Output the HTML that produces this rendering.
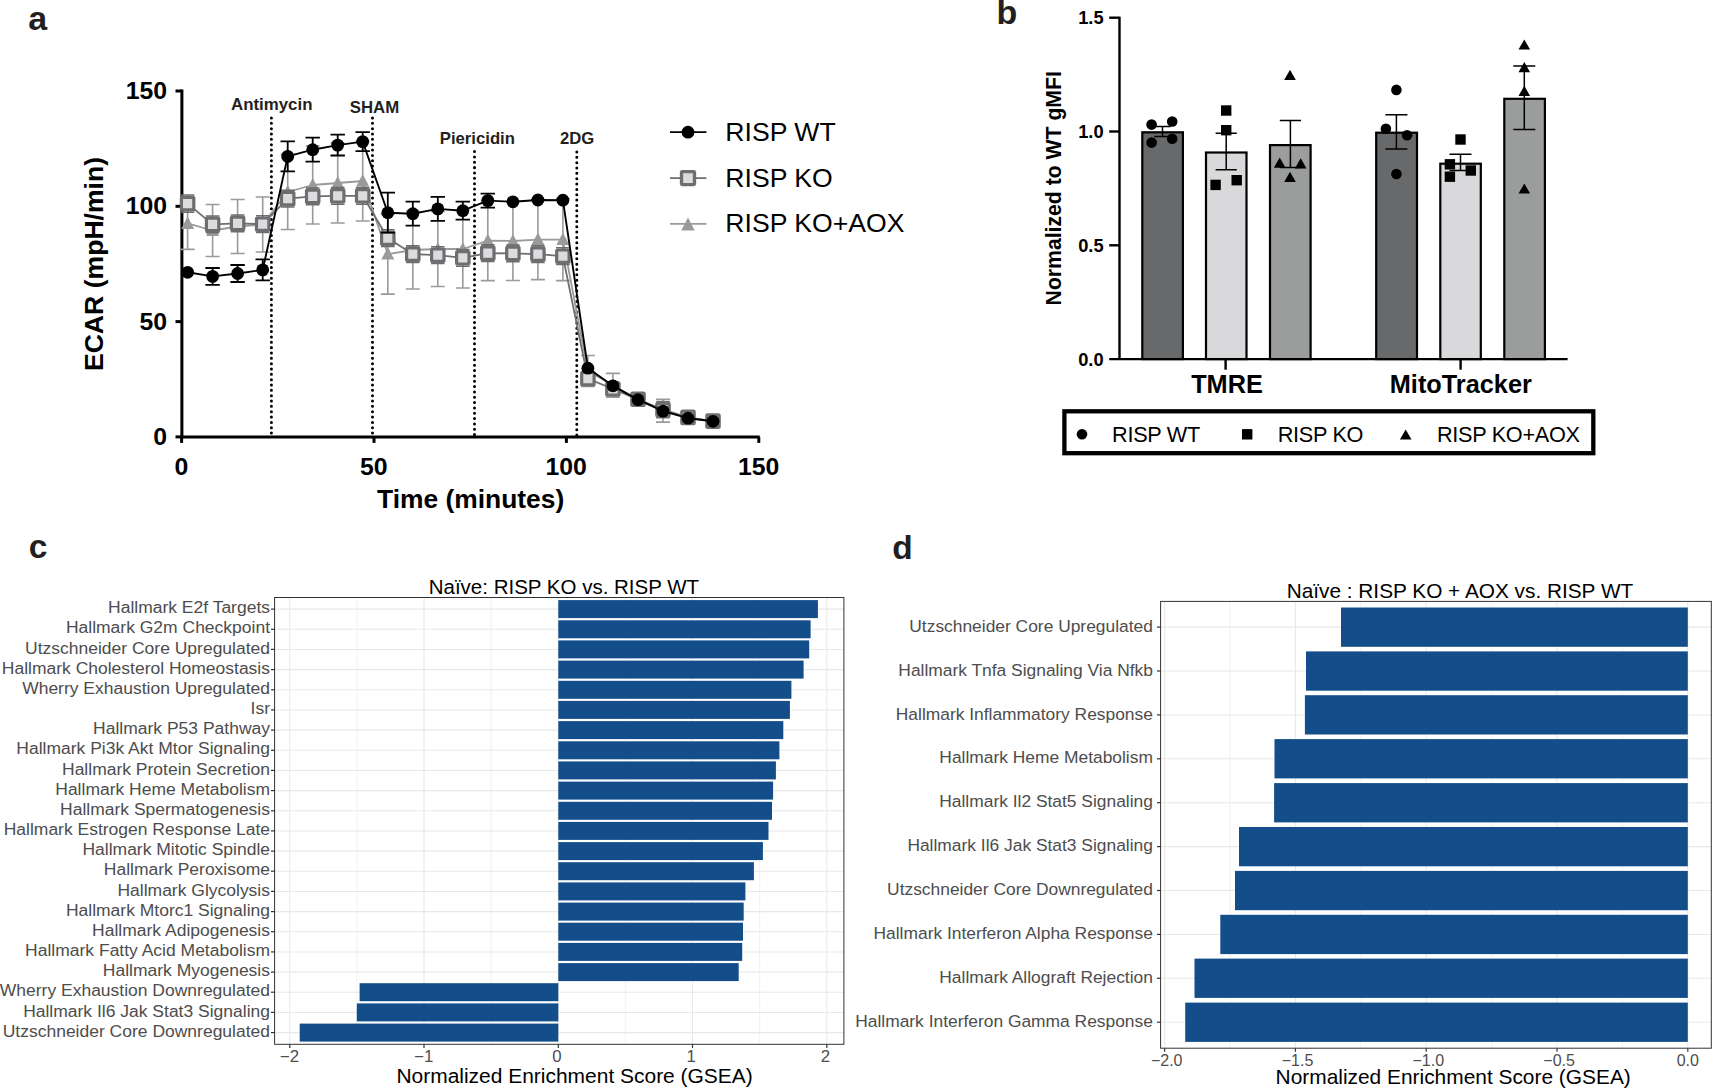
<!DOCTYPE html>
<html lang="en">
<head>
<meta charset="utf-8">
<title>Figure</title>
<style>
html,body{margin:0;padding:0;background:#fff;}
body{width:1713px;height:1089px;overflow:hidden;}
svg{display:block;font-family:"Liberation Sans",Arial,Helvetica,sans-serif;}
</style>
</head>
<body>
<svg width="1713" height="1089" viewBox="0 0 1713 1089">
<rect width="1713" height="1089" fill="#fff"/>
<text transform="translate(28.20,29.60)" font-size="34" font-weight="bold" text-anchor="start" fill="#231f20">a</text>
<text transform="translate(996.60,24.20)" font-size="34" font-weight="bold" text-anchor="start" fill="#231f20">b</text>
<text transform="translate(28.80,557.80)" font-size="33.5" font-weight="bold" text-anchor="start" fill="#231f20">c</text>
<text transform="translate(892.20,558.60)" font-size="33.5" font-weight="bold" text-anchor="start" fill="#231f20">d</text>
<g id="pa">
<line x1="271.4" y1="118.0" x2="271.4" y2="435.29999999999995" stroke="#000" stroke-width="3.0" stroke-linecap="round" stroke-dasharray="0.01 5.33"/>
<line x1="372.5" y1="118.0" x2="372.5" y2="435.29999999999995" stroke="#000" stroke-width="3.0" stroke-linecap="round" stroke-dasharray="0.01 5.33"/>
<line x1="474.5" y1="151.6" x2="474.5" y2="435.29999999999995" stroke="#000" stroke-width="3.0" stroke-linecap="round" stroke-dasharray="0.01 5.33"/>
<line x1="576.8" y1="152.0" x2="576.8" y2="435.29999999999995" stroke="#000" stroke-width="3.0" stroke-linecap="round" stroke-dasharray="0.01 5.33"/>
<text transform="translate(231.00,110.00)" font-size="16.85" font-weight="bold" text-anchor="start" fill="#231f20">Antimycin</text>
<text transform="translate(349.80,113.20)" font-size="16.8" font-weight="bold" text-anchor="start" fill="#231f20">SHAM</text>
<text transform="translate(439.80,144.00)" font-size="16.7" font-weight="bold" text-anchor="start" fill="#231f20">Piericidin</text>
<text transform="translate(560.00,144.00)" font-size="16.7" font-weight="bold" text-anchor="start" fill="#231f20">2DG</text>
<path d="M181.9 89.5V436.9H759.7" fill="none" stroke="#000" stroke-width="3" stroke-linejoin="miter"/>
<line x1="175.5" y1="436.9" x2="181.9" y2="436.9" stroke="#000" stroke-width="3"/>
<line x1="181.6" y1="436.9" x2="181.6" y2="442.9" stroke="#000" stroke-width="3"/>
<text transform="translate(167.00,444.90)" font-size="24.8" font-weight="bold" text-anchor="end" fill="#000">0</text>
<text transform="translate(181.40,474.50)" font-size="24.8" font-weight="bold" text-anchor="middle" fill="#000">0</text>
<line x1="175.5" y1="321.6" x2="181.9" y2="321.6" stroke="#000" stroke-width="3"/>
<line x1="374.0" y1="436.9" x2="374.0" y2="442.9" stroke="#000" stroke-width="3"/>
<text transform="translate(167.00,329.60)" font-size="24.8" font-weight="bold" text-anchor="end" fill="#000">50</text>
<text transform="translate(373.80,474.50)" font-size="24.8" font-weight="bold" text-anchor="middle" fill="#000">50</text>
<line x1="175.5" y1="206.3" x2="181.9" y2="206.3" stroke="#000" stroke-width="3"/>
<line x1="566.4" y1="436.9" x2="566.4" y2="442.9" stroke="#000" stroke-width="3"/>
<text transform="translate(167.00,214.30)" font-size="24.8" font-weight="bold" text-anchor="end" fill="#000">100</text>
<text transform="translate(566.20,474.50)" font-size="24.8" font-weight="bold" text-anchor="middle" fill="#000">100</text>
<line x1="175.5" y1="91.0" x2="181.9" y2="91.0" stroke="#000" stroke-width="3"/>
<line x1="758.8" y1="436.9" x2="758.8" y2="442.9" stroke="#000" stroke-width="3"/>
<text transform="translate(167.00,99.00)" font-size="24.8" font-weight="bold" text-anchor="end" fill="#000">150</text>
<text transform="translate(758.60,474.50)" font-size="24.8" font-weight="bold" text-anchor="middle" fill="#000">150</text>
<path d="M187.6 197.4V249.4M180.6 197.4H194.6M180.6 249.4H194.6" stroke="#9a9a9a" stroke-width="1.6" fill="none"/>
<path d="M212.6 204.5V256.5M205.6 204.5H219.6M205.6 256.5H219.6" stroke="#9a9a9a" stroke-width="1.6" fill="none"/>
<path d="M237.6 199.5V253.5M230.6 199.5H244.6M230.6 253.5H244.6" stroke="#9a9a9a" stroke-width="1.6" fill="none"/>
<path d="M262.7 197.0V252.0M255.7 197.0H269.7M255.7 252.0H269.7" stroke="#9a9a9a" stroke-width="1.6" fill="none"/>
<path d="M287.7 154.5V229.5M280.7 154.5H294.7M280.7 229.5H294.7" stroke="#9a9a9a" stroke-width="1.6" fill="none"/>
<path d="M312.7 146.0V224.0M305.7 146.0H319.7M305.7 224.0H319.7" stroke="#9a9a9a" stroke-width="1.6" fill="none"/>
<path d="M337.7 143.0V223.0M330.7 143.0H344.7M330.7 223.0H344.7" stroke="#9a9a9a" stroke-width="1.6" fill="none"/>
<path d="M362.7 141.0V221.0M355.7 141.0H369.7M355.7 221.0H369.7" stroke="#9a9a9a" stroke-width="1.6" fill="none"/>
<path d="M387.8 214.1V294.1M380.8 214.1H394.8M380.8 294.1H394.8" stroke="#9a9a9a" stroke-width="1.6" fill="none"/>
<path d="M412.8 211.0V289.0M405.8 211.0H419.8M405.8 289.0H419.8" stroke="#9a9a9a" stroke-width="1.6" fill="none"/>
<path d="M437.8 211.5V286.5M430.8 211.5H444.8M430.8 286.5H444.8" stroke="#9a9a9a" stroke-width="1.6" fill="none"/>
<path d="M462.8 210.0V288.0M455.8 210.0H469.8M455.8 288.0H469.8" stroke="#9a9a9a" stroke-width="1.6" fill="none"/>
<path d="M487.8 200.6V280.6M480.8 200.6H494.8M480.8 280.6H494.8" stroke="#9a9a9a" stroke-width="1.6" fill="none"/>
<path d="M512.9 201.5V280.5M505.9 201.5H519.9M505.9 280.5H519.9" stroke="#9a9a9a" stroke-width="1.6" fill="none"/>
<path d="M537.9 199.6V279.6M530.9 199.6H544.9M530.9 279.6H544.9" stroke="#9a9a9a" stroke-width="1.6" fill="none"/>
<path d="M562.9 198.6V280.6M555.9 198.6H569.9M555.9 280.6H569.9" stroke="#9a9a9a" stroke-width="1.6" fill="none"/>
<path d="M587.9 355.5V386.5M580.9 355.5H594.9M580.9 386.5H594.9" stroke="#9a9a9a" stroke-width="1.6" fill="none"/>
<path d="M612.9 373.4V397.2M605.9 373.4H619.9M605.9 397.2H619.9" stroke="#9a9a9a" stroke-width="1.6" fill="none"/>
<path d="M663.0 399.3V422.1M656.0 399.3H670.0M656.0 422.1H670.0" stroke="#9a9a9a" stroke-width="1.6" fill="none"/>
<polyline points="187.6,223.4 212.6,230.5 237.6,226.5 262.7,224.5 287.7,192.0 312.7,185.0 337.7,183.0 362.7,181.0 387.8,254.1 412.8,250.0 437.8,249.0 462.8,249.0 487.8,240.6 512.9,241.0 537.9,239.6 562.9,239.6 587.9,371.0 612.9,385.3 638.0,399.7 663.0,410.7 688.0,418.2 713.0,421.3" fill="none" stroke="#9a9a9a" stroke-width="1.8" stroke-linejoin="round"/>
<path d="M187.6 216.4L194.1 228.9H181.1Z" fill="#9a9a9a"/>
<path d="M212.6 223.5L219.1 236.0H206.1Z" fill="#9a9a9a"/>
<path d="M237.6 219.5L244.1 232.0H231.1Z" fill="#9a9a9a"/>
<path d="M262.7 217.5L269.2 230.0H256.2Z" fill="#9a9a9a"/>
<path d="M287.7 185.0L294.2 197.5H281.2Z" fill="#9a9a9a"/>
<path d="M312.7 178.0L319.2 190.5H306.2Z" fill="#9a9a9a"/>
<path d="M337.7 176.0L344.2 188.5H331.2Z" fill="#9a9a9a"/>
<path d="M362.7 174.0L369.2 186.5H356.2Z" fill="#9a9a9a"/>
<path d="M387.8 247.1L394.3 259.6H381.3Z" fill="#9a9a9a"/>
<path d="M412.8 243.0L419.3 255.5H406.3Z" fill="#9a9a9a"/>
<path d="M437.8 242.0L444.3 254.5H431.3Z" fill="#9a9a9a"/>
<path d="M462.8 242.0L469.3 254.5H456.3Z" fill="#9a9a9a"/>
<path d="M487.8 233.6L494.3 246.1H481.3Z" fill="#9a9a9a"/>
<path d="M512.9 234.0L519.4 246.5H506.4Z" fill="#9a9a9a"/>
<path d="M537.9 232.6L544.4 245.1H531.4Z" fill="#9a9a9a"/>
<path d="M562.9 232.6L569.4 245.1H556.4Z" fill="#9a9a9a"/>
<path d="M587.9 364.0L594.4 376.5H581.4Z" fill="#9a9a9a"/>
<path d="M612.9 378.3L619.4 390.8H606.4Z" fill="#9a9a9a"/>
<path d="M638.0 392.7L644.5 405.2H631.5Z" fill="#9a9a9a"/>
<path d="M663.0 403.7L669.5 416.2H656.5Z" fill="#9a9a9a"/>
<path d="M688.0 411.2L694.5 423.7H681.5Z" fill="#9a9a9a"/>
<path d="M713.0 414.3L719.5 426.8H706.5Z" fill="#9a9a9a"/>
<path d="M187.6 195.0V212.2M180.8 195.0H194.4M180.8 212.2H194.4" stroke="#6d6e70" stroke-width="1.5" fill="none"/>
<path d="M212.6 216.0V232.8M205.8 216.0H219.4M205.8 232.8H219.4" stroke="#6d6e70" stroke-width="1.5" fill="none"/>
<path d="M237.6 215.0V231.8M230.8 215.0H244.4M230.8 231.8H244.4" stroke="#6d6e70" stroke-width="1.5" fill="none"/>
<path d="M262.7 215.8V232.6M255.9 215.8H269.5M255.9 232.6H269.5" stroke="#6d6e70" stroke-width="1.5" fill="none"/>
<path d="M287.7 190.2V207.0M280.9 190.2H294.5M280.9 207.0H294.5" stroke="#6d6e70" stroke-width="1.5" fill="none"/>
<path d="M312.7 188.0V204.8M305.9 188.0H319.5M305.9 204.8H319.5" stroke="#6d6e70" stroke-width="1.5" fill="none"/>
<path d="M337.7 187.4V204.2M330.9 187.4H344.5M330.9 204.2H344.5" stroke="#6d6e70" stroke-width="1.5" fill="none"/>
<path d="M362.7 187.4V204.2M355.9 187.4H369.5M355.9 204.2H369.5" stroke="#6d6e70" stroke-width="1.5" fill="none"/>
<path d="M387.8 229.8V246.6M381.0 229.8H394.6M381.0 246.6H394.6" stroke="#6d6e70" stroke-width="1.5" fill="none"/>
<path d="M412.8 245.7V262.5M406.0 245.7H419.6M406.0 262.5H419.6" stroke="#6d6e70" stroke-width="1.5" fill="none"/>
<path d="M437.8 246.8V263.6M431.0 246.8H444.6M431.0 263.6H444.6" stroke="#6d6e70" stroke-width="1.5" fill="none"/>
<path d="M462.8 249.4V266.2M456.0 249.4H469.6M456.0 266.2H469.6" stroke="#6d6e70" stroke-width="1.5" fill="none"/>
<path d="M487.8 244.7V261.5M481.0 244.7H494.6M481.0 261.5H494.6" stroke="#6d6e70" stroke-width="1.5" fill="none"/>
<path d="M512.9 244.9V261.7M506.1 244.9H519.7M506.1 261.7H519.7" stroke="#6d6e70" stroke-width="1.5" fill="none"/>
<path d="M537.9 245.7V262.5M531.1 245.7H544.7M531.1 262.5H544.7" stroke="#6d6e70" stroke-width="1.5" fill="none"/>
<path d="M562.9 247.8V264.6M556.1 247.8H569.7M556.1 264.6H569.7" stroke="#6d6e70" stroke-width="1.5" fill="none"/>
<path d="M663.0 401.4V417.8M656.2 401.4H669.8M656.2 417.8H669.8" stroke="#6d6e70" stroke-width="1.5" fill="none"/>
<polyline points="187.6,203.6 212.6,224.4 237.6,223.4 262.7,224.2 287.7,198.6 312.7,196.4 337.7,195.8 362.7,195.8 387.8,238.2 412.8,254.1 437.8,255.2 462.8,257.8 487.8,253.1 512.9,253.3 537.9,254.1 562.9,256.2 587.9,378.6 612.9,389.0 638.0,399.3 663.0,409.6 688.0,417.4 713.0,421.1" fill="none" stroke="#6d6e70" stroke-width="1.8" stroke-linejoin="round"/>
<rect x="181.4" y="197.4" width="12.4" height="12.4" rx="0.9" fill="#dcdcde" stroke="#6d6e70" stroke-width="3.2"/>
<rect x="206.4" y="218.2" width="12.4" height="12.4" rx="0.9" fill="#dcdcde" stroke="#6d6e70" stroke-width="3.2"/>
<rect x="231.4" y="217.2" width="12.4" height="12.4" rx="0.9" fill="#dcdcde" stroke="#6d6e70" stroke-width="3.2"/>
<rect x="256.5" y="218.0" width="12.4" height="12.4" rx="0.9" fill="#dcdcde" stroke="#6d6e70" stroke-width="3.2"/>
<rect x="281.5" y="192.4" width="12.4" height="12.4" rx="0.9" fill="#dcdcde" stroke="#6d6e70" stroke-width="3.2"/>
<rect x="306.5" y="190.2" width="12.4" height="12.4" rx="0.9" fill="#dcdcde" stroke="#6d6e70" stroke-width="3.2"/>
<rect x="331.5" y="189.6" width="12.4" height="12.4" rx="0.9" fill="#dcdcde" stroke="#6d6e70" stroke-width="3.2"/>
<rect x="356.5" y="189.6" width="12.4" height="12.4" rx="0.9" fill="#dcdcde" stroke="#6d6e70" stroke-width="3.2"/>
<rect x="381.6" y="232.0" width="12.4" height="12.4" rx="0.9" fill="#dcdcde" stroke="#6d6e70" stroke-width="3.2"/>
<rect x="406.6" y="247.9" width="12.4" height="12.4" rx="0.9" fill="#dcdcde" stroke="#6d6e70" stroke-width="3.2"/>
<rect x="431.6" y="249.0" width="12.4" height="12.4" rx="0.9" fill="#dcdcde" stroke="#6d6e70" stroke-width="3.2"/>
<rect x="456.6" y="251.6" width="12.4" height="12.4" rx="0.9" fill="#dcdcde" stroke="#6d6e70" stroke-width="3.2"/>
<rect x="481.6" y="246.9" width="12.4" height="12.4" rx="0.9" fill="#dcdcde" stroke="#6d6e70" stroke-width="3.2"/>
<rect x="506.7" y="247.1" width="12.4" height="12.4" rx="0.9" fill="#dcdcde" stroke="#6d6e70" stroke-width="3.2"/>
<rect x="531.7" y="247.9" width="12.4" height="12.4" rx="0.9" fill="#dcdcde" stroke="#6d6e70" stroke-width="3.2"/>
<rect x="556.7" y="250.0" width="12.4" height="12.4" rx="0.9" fill="#dcdcde" stroke="#6d6e70" stroke-width="3.2"/>
<rect x="581.7" y="372.4" width="12.4" height="12.4" rx="0.9" fill="#dcdcde" stroke="#6d6e70" stroke-width="3.2"/>
<rect x="606.7" y="382.8" width="12.4" height="12.4" rx="0.9" fill="#dcdcde" stroke="#6d6e70" stroke-width="3.2"/>
<rect x="631.8" y="393.1" width="12.4" height="12.4" rx="0.9" fill="#dcdcde" stroke="#6d6e70" stroke-width="3.2"/>
<rect x="656.8" y="403.4" width="12.4" height="12.4" rx="0.9" fill="#dcdcde" stroke="#6d6e70" stroke-width="3.2"/>
<rect x="681.8" y="411.2" width="12.4" height="12.4" rx="0.9" fill="#dcdcde" stroke="#6d6e70" stroke-width="3.2"/>
<rect x="706.8" y="414.9" width="12.4" height="12.4" rx="0.9" fill="#dcdcde" stroke="#6d6e70" stroke-width="3.2"/>
<path d="M212.6 268.0V284.8M205.4 268.0H219.8M205.4 284.8H219.8" stroke="#000" stroke-width="1.8" fill="none"/>
<path d="M237.6 265.0V282.0M230.4 265.0H244.8M230.4 282.0H244.8" stroke="#000" stroke-width="1.8" fill="none"/>
<path d="M262.7 259.4V280.4M255.5 259.4H269.9M255.5 280.4H269.9" stroke="#000" stroke-width="1.8" fill="none"/>
<path d="M287.7 141.4V171.4M280.5 141.4H294.9M280.5 171.4H294.9" stroke="#000" stroke-width="1.8" fill="none"/>
<path d="M312.7 137.7V161.7M305.5 137.7H319.9M305.5 161.7H319.9" stroke="#000" stroke-width="1.8" fill="none"/>
<path d="M337.7 134.7V155.5M330.5 134.7H344.9M330.5 155.5H344.9" stroke="#000" stroke-width="1.8" fill="none"/>
<path d="M362.7 132.1V151.1M355.5 132.1H369.9M355.5 151.1H369.9" stroke="#000" stroke-width="1.8" fill="none"/>
<path d="M387.8 192.7V232.7M380.6 192.7H395.0M380.6 232.7H395.0" stroke="#000" stroke-width="1.8" fill="none"/>
<path d="M412.8 201.7V225.7M405.6 201.7H420.0M405.6 225.7H420.0" stroke="#000" stroke-width="1.8" fill="none"/>
<path d="M437.8 196.9V220.9M430.6 196.9H445.0M430.6 220.9H445.0" stroke="#000" stroke-width="1.8" fill="none"/>
<path d="M462.8 201.7V219.7M455.6 201.7H470.0M455.6 219.7H470.0" stroke="#000" stroke-width="1.8" fill="none"/>
<path d="M487.8 193.6V207.6M480.6 193.6H495.0M480.6 207.6H495.0" stroke="#000" stroke-width="1.8" fill="none"/>
<polyline points="187.6,272.3 212.6,276.4 237.6,273.5 262.7,269.9 287.7,156.4 312.7,149.7 337.7,145.1 362.7,141.6 387.8,212.7 412.8,213.7 437.8,208.9 462.8,210.7 487.8,200.6 512.9,201.8 537.9,200.0 562.9,200.2 587.9,368.2 612.9,385.8 638.0,399.7 663.0,411.1 688.0,418.2 713.0,421.3" fill="none" stroke="#000" stroke-width="1.9" stroke-linejoin="round"/>
<circle cx="187.6" cy="272.3" r="6.4" fill="#000"/>
<circle cx="212.6" cy="276.4" r="6.4" fill="#000"/>
<circle cx="237.6" cy="273.5" r="6.4" fill="#000"/>
<circle cx="262.7" cy="269.9" r="6.4" fill="#000"/>
<circle cx="287.7" cy="156.4" r="6.4" fill="#000"/>
<circle cx="312.7" cy="149.7" r="6.4" fill="#000"/>
<circle cx="337.7" cy="145.1" r="6.4" fill="#000"/>
<circle cx="362.7" cy="141.6" r="6.4" fill="#000"/>
<circle cx="387.8" cy="212.7" r="6.4" fill="#000"/>
<circle cx="412.8" cy="213.7" r="6.4" fill="#000"/>
<circle cx="437.8" cy="208.9" r="6.4" fill="#000"/>
<circle cx="462.8" cy="210.7" r="6.4" fill="#000"/>
<circle cx="487.8" cy="200.6" r="6.4" fill="#000"/>
<circle cx="512.9" cy="201.8" r="6.4" fill="#000"/>
<circle cx="537.9" cy="200.0" r="6.4" fill="#000"/>
<circle cx="562.9" cy="200.2" r="6.4" fill="#000"/>
<circle cx="587.9" cy="368.2" r="6.4" fill="#000"/>
<circle cx="612.9" cy="385.8" r="6.4" fill="#000"/>
<circle cx="638.0" cy="399.7" r="6.4" fill="#000"/>
<circle cx="663.0" cy="411.1" r="6.4" fill="#000"/>
<circle cx="688.0" cy="418.2" r="6.4" fill="#000"/>
<circle cx="713.0" cy="421.3" r="6.4" fill="#000"/>
<text transform="translate(470.60,508.40)" font-size="26.4" font-weight="bold" text-anchor="middle" fill="#000">Time (minutes)</text>
<text transform="translate(103.40,264.00) rotate(-90)" font-size="26.6" font-weight="bold" text-anchor="middle" fill="#000">ECAR (mpH/min)</text>
<line x1="670" y1="132.2" x2="706.4" y2="132.2" stroke="#000" stroke-width="1.7"/>
<circle cx="688" cy="132.2" r="6.4" fill="#000"/>
<text transform="translate(725.30,140.70)" font-size="26.6" text-anchor="start" fill="#000">RISP WT</text>
<line x1="670" y1="178.1" x2="706.4" y2="178.1" stroke="#6d6e70" stroke-width="1.7"/>
<rect x="681.5" y="171.6" width="13" height="13" rx="0.8" fill="#dcdcde" stroke="#6d6e70" stroke-width="3.3"/>
<text transform="translate(725.30,186.60)" font-size="26.6" text-anchor="start" fill="#000">RISP KO</text>
<line x1="670" y1="223.9" x2="706.4" y2="223.9" stroke="#9a9a9a" stroke-width="1.7"/>
<path d="M688 217.6L694.7 230.5H681.3Z" fill="#9a9a9a"/>
<text transform="translate(725.30,232.40)" font-size="26.6" text-anchor="start" fill="#000">RISP KO+AOX</text>
</g>
<g id="pb">
<rect x="1142.3" y="132.3" width="40.6" height="226.8" fill="#68696b" stroke="#000" stroke-width="2.2"/>
<rect x="1206.0" y="152.5" width="40.5" height="206.6" fill="#d9d9db" stroke="#000" stroke-width="2.2"/>
<rect x="1270.0" y="145.1" width="40.6" height="214.0" fill="#9b9c9c" stroke="#000" stroke-width="2.2"/>
<rect x="1376.2" y="132.7" width="40.8" height="226.4" fill="#68696b" stroke="#000" stroke-width="2.2"/>
<rect x="1440.3" y="163.7" width="40.5" height="195.4" fill="#d9d9db" stroke="#000" stroke-width="2.2"/>
<rect x="1504.3" y="98.8" width="40.6" height="260.3" fill="#9b9c9c" stroke="#000" stroke-width="2.2"/>
<path d="M1162.5 126.4V136.4M1154.2 126.4H1170.8M1154.2 136.4H1170.8" stroke="#000" stroke-width="1.5" fill="none"/>
<path d="M1226.2 133.3V169.8M1215.6 133.3H1236.8M1215.6 169.8H1236.8" stroke="#000" stroke-width="1.5" fill="none"/>
<path d="M1290.4 120.5V167.4M1279.8 120.5H1301.0M1279.8 167.4H1301.0" stroke="#000" stroke-width="1.5" fill="none"/>
<path d="M1396.4 114.7V149.0M1385.4 114.7H1407.4M1385.4 149.0H1407.4" stroke="#000" stroke-width="1.5" fill="none"/>
<path d="M1460.5 154.3V170.5M1449.5 154.3H1471.5M1449.5 170.5H1471.5" stroke="#000" stroke-width="1.5" fill="none"/>
<path d="M1524.3 65.9V129.5M1513.3 65.9H1535.3M1513.3 129.5H1535.3" stroke="#000" stroke-width="1.5" fill="none"/>
<circle cx="1151.6" cy="124.6" r="5.3" fill="#000"/>
<circle cx="1172.2" cy="121.5" r="5.3" fill="#000"/>
<circle cx="1151.6" cy="142.6" r="5.3" fill="#000"/>
<circle cx="1172.2" cy="138.8" r="5.3" fill="#000"/>
<circle cx="1396.4" cy="89.9" r="5.3" fill="#000"/>
<circle cx="1385.9" cy="128.7" r="5.3" fill="#000"/>
<circle cx="1407.1" cy="135.3" r="5.3" fill="#000"/>
<circle cx="1396.4" cy="174.0" r="5.3" fill="#000"/>
<rect x="1221.0" y="105.3" width="10.4" height="10.4" fill="#000"/>
<rect x="1221.0" y="125.0" width="10.4" height="10.4" fill="#000"/>
<rect x="1210.4" y="179.7" width="10.4" height="10.4" fill="#000"/>
<rect x="1231.5" y="175.0" width="10.4" height="10.4" fill="#000"/>
<rect x="1455.3" y="134.3" width="10.4" height="10.4" fill="#000"/>
<rect x="1444.7" y="159.1" width="10.4" height="10.4" fill="#000"/>
<rect x="1465.6" y="165.3" width="10.4" height="10.4" fill="#000"/>
<rect x="1444.7" y="171.5" width="10.4" height="10.4" fill="#000"/>
<path d="M1290.0 69.8L1295.8 80.0H1284.2Z" fill="#000"/>
<path d="M1279.7 157.6L1285.5 167.8H1273.9Z" fill="#000"/>
<path d="M1300.7 158.2L1306.5 168.4H1294.9Z" fill="#000"/>
<path d="M1290.0 171.7L1295.8 181.9H1284.2Z" fill="#000"/>
<path d="M1524.3 39.4L1530.1 49.6H1518.5Z" fill="#000"/>
<path d="M1524.3 62.0L1530.1 72.2H1518.5Z" fill="#000"/>
<path d="M1524.3 85.7L1530.1 95.9H1518.5Z" fill="#000"/>
<path d="M1524.3 183.4L1530.1 193.6H1518.5Z" fill="#000"/>
<path d="M1119.5 16.7V359.1" stroke="#000" stroke-width="2.4" fill="none"/>
<path d="M1109.2 359.1H1567.6" stroke="#000" stroke-width="2.4" fill="none"/>
<text transform="translate(1103.60,365.60)" font-size="18.3" font-weight="bold" text-anchor="end" fill="#000">0.0</text>
<line x1="1109.2" y1="245.3" x2="1119.5" y2="245.3" stroke="#000" stroke-width="2.4"/>
<text transform="translate(1103.60,251.80)" font-size="18.3" font-weight="bold" text-anchor="end" fill="#000">0.5</text>
<line x1="1109.2" y1="131.5" x2="1119.5" y2="131.5" stroke="#000" stroke-width="2.4"/>
<text transform="translate(1103.60,138.00)" font-size="18.3" font-weight="bold" text-anchor="end" fill="#000">1.0</text>
<line x1="1109.2" y1="17.7" x2="1119.5" y2="17.7" stroke="#000" stroke-width="2.4"/>
<text transform="translate(1103.60,24.20)" font-size="18.3" font-weight="bold" text-anchor="end" fill="#000">1.5</text>
<line x1="1225.6" y1="359.1" x2="1225.6" y2="369.70000000000005" stroke="#000" stroke-width="2.4"/>
<line x1="1460.6" y1="359.1" x2="1460.6" y2="369.70000000000005" stroke="#000" stroke-width="2.4"/>
<text transform="translate(1227.00,393.30)" font-size="25.3" font-weight="bold" text-anchor="middle" fill="#000">TMRE</text>
<text transform="translate(1460.80,393.30)" font-size="25.3" font-weight="bold" text-anchor="middle" fill="#000">MitoTracker</text>
<text transform="translate(1061.30,188.30) rotate(-90)" font-size="21.2" font-weight="bold" text-anchor="middle" fill="#000">Normalized to WT gMFI</text>
<rect x="1064.4" y="411.3" width="528.9" height="41.9" fill="#fff" stroke="#000" stroke-width="4.3"/>
<circle cx="1082.0" cy="434.3" r="5.3" fill="#000"/>
<text transform="translate(1112.10,441.60)" font-size="21.7" text-anchor="start" fill="#000" letter-spacing="-0.3">RISP WT</text>
<rect x="1242.0" y="429.1" width="10.4" height="10.4" fill="#000"/>
<text transform="translate(1277.70,441.60)" font-size="21.7" text-anchor="start" fill="#000" letter-spacing="-0.3">RISP KO</text>
<path d="M1405.7 429.4L1411.5 439.6H1399.9Z" fill="#000"/>
<text transform="translate(1436.90,441.60)" font-size="21.7" text-anchor="start" fill="#000" letter-spacing="-0.3">RISP KO+AOX</text>
</g>
<g id="pc">
<rect x="274.6" y="597.5" width="569.3" height="446.79999999999995" fill="#fff"/>
<line x1="356.9" y1="597.5" x2="356.9" y2="1044.3" stroke="#e8e8e8" stroke-width="0.6"/>
<line x1="491.2" y1="597.5" x2="491.2" y2="1044.3" stroke="#e8e8e8" stroke-width="0.6"/>
<line x1="625.4" y1="597.5" x2="625.4" y2="1044.3" stroke="#e8e8e8" stroke-width="0.6"/>
<line x1="759.7" y1="597.5" x2="759.7" y2="1044.3" stroke="#e8e8e8" stroke-width="0.6"/>
<line x1="289.8" y1="597.5" x2="289.8" y2="1044.3" stroke="#e8e8e8" stroke-width="1.05"/>
<line x1="424.0" y1="597.5" x2="424.0" y2="1044.3" stroke="#e8e8e8" stroke-width="1.05"/>
<line x1="558.3" y1="597.5" x2="558.3" y2="1044.3" stroke="#e8e8e8" stroke-width="1.05"/>
<line x1="692.5" y1="597.5" x2="692.5" y2="1044.3" stroke="#e8e8e8" stroke-width="1.05"/>
<line x1="826.8" y1="597.5" x2="826.8" y2="1044.3" stroke="#e8e8e8" stroke-width="1.05"/>
<line x1="274.6" y1="609.1" x2="843.9" y2="609.1" stroke="#e8e8e8" stroke-width="1.05"/>
<line x1="274.6" y1="629.3" x2="843.9" y2="629.3" stroke="#e8e8e8" stroke-width="1.05"/>
<line x1="274.6" y1="649.4" x2="843.9" y2="649.4" stroke="#e8e8e8" stroke-width="1.05"/>
<line x1="274.6" y1="669.6" x2="843.9" y2="669.6" stroke="#e8e8e8" stroke-width="1.05"/>
<line x1="274.6" y1="689.8" x2="843.9" y2="689.8" stroke="#e8e8e8" stroke-width="1.05"/>
<line x1="274.6" y1="709.9" x2="843.9" y2="709.9" stroke="#e8e8e8" stroke-width="1.05"/>
<line x1="274.6" y1="730.1" x2="843.9" y2="730.1" stroke="#e8e8e8" stroke-width="1.05"/>
<line x1="274.6" y1="750.3" x2="843.9" y2="750.3" stroke="#e8e8e8" stroke-width="1.05"/>
<line x1="274.6" y1="770.4" x2="843.9" y2="770.4" stroke="#e8e8e8" stroke-width="1.05"/>
<line x1="274.6" y1="790.6" x2="843.9" y2="790.6" stroke="#e8e8e8" stroke-width="1.05"/>
<line x1="274.6" y1="810.8" x2="843.9" y2="810.8" stroke="#e8e8e8" stroke-width="1.05"/>
<line x1="274.6" y1="830.9" x2="843.9" y2="830.9" stroke="#e8e8e8" stroke-width="1.05"/>
<line x1="274.6" y1="851.1" x2="843.9" y2="851.1" stroke="#e8e8e8" stroke-width="1.05"/>
<line x1="274.6" y1="871.2" x2="843.9" y2="871.2" stroke="#e8e8e8" stroke-width="1.05"/>
<line x1="274.6" y1="891.4" x2="843.9" y2="891.4" stroke="#e8e8e8" stroke-width="1.05"/>
<line x1="274.6" y1="911.6" x2="843.9" y2="911.6" stroke="#e8e8e8" stroke-width="1.05"/>
<line x1="274.6" y1="931.7" x2="843.9" y2="931.7" stroke="#e8e8e8" stroke-width="1.05"/>
<line x1="274.6" y1="951.9" x2="843.9" y2="951.9" stroke="#e8e8e8" stroke-width="1.05"/>
<line x1="274.6" y1="972.1" x2="843.9" y2="972.1" stroke="#e8e8e8" stroke-width="1.05"/>
<line x1="274.6" y1="992.2" x2="843.9" y2="992.2" stroke="#e8e8e8" stroke-width="1.05"/>
<line x1="274.6" y1="1012.4" x2="843.9" y2="1012.4" stroke="#e8e8e8" stroke-width="1.05"/>
<line x1="274.6" y1="1032.6" x2="843.9" y2="1032.6" stroke="#e8e8e8" stroke-width="1.05"/>
<rect x="558.3" y="600.1" width="259.6" height="18.0" fill="#134e8b"/>
<line x1="271.0" y1="609.1" x2="274.6" y2="609.1" stroke="#333" stroke-width="1.2"/>
<text transform="translate(270.00,613.30) scale(1.1220,1.0000)" font-size="15.6" text-anchor="end" fill="#4d4d4d">Hallmark E2f Targets</text>
<rect x="558.3" y="620.3" width="252.3" height="18.0" fill="#134e8b"/>
<line x1="271.0" y1="629.3" x2="274.6" y2="629.3" stroke="#333" stroke-width="1.2"/>
<text transform="translate(270.00,633.47) scale(1.1220,1.0000)" font-size="15.6" text-anchor="end" fill="#4d4d4d">Hallmark G2m Checkpoint</text>
<rect x="558.3" y="640.4" width="250.9" height="18.0" fill="#134e8b"/>
<line x1="271.0" y1="649.4" x2="274.6" y2="649.4" stroke="#333" stroke-width="1.2"/>
<text transform="translate(270.00,653.63) scale(1.1220,1.0000)" font-size="15.6" text-anchor="end" fill="#4d4d4d">Utzschneider Core Upregulated</text>
<rect x="558.3" y="660.6" width="245.3" height="18.0" fill="#134e8b"/>
<line x1="271.0" y1="669.6" x2="274.6" y2="669.6" stroke="#333" stroke-width="1.2"/>
<text transform="translate(270.00,673.80) scale(1.1220,1.0000)" font-size="15.6" text-anchor="end" fill="#4d4d4d">Hallmark Cholesterol Homeostasis</text>
<rect x="558.3" y="680.8" width="233.1" height="18.0" fill="#134e8b"/>
<line x1="271.0" y1="689.8" x2="274.6" y2="689.8" stroke="#333" stroke-width="1.2"/>
<text transform="translate(270.00,693.96) scale(1.1220,1.0000)" font-size="15.6" text-anchor="end" fill="#4d4d4d">Wherry Exhaustion Upregulated</text>
<rect x="558.3" y="700.9" width="231.6" height="18.0" fill="#134e8b"/>
<line x1="271.0" y1="709.9" x2="274.6" y2="709.9" stroke="#333" stroke-width="1.2"/>
<text transform="translate(270.00,714.12) scale(1.1220,1.0000)" font-size="15.6" text-anchor="end" fill="#4d4d4d">Isr</text>
<rect x="558.3" y="721.1" width="225.0" height="18.0" fill="#134e8b"/>
<line x1="271.0" y1="730.1" x2="274.6" y2="730.1" stroke="#333" stroke-width="1.2"/>
<text transform="translate(270.00,734.29) scale(1.1220,1.0000)" font-size="15.6" text-anchor="end" fill="#4d4d4d">Hallmark P53 Pathway</text>
<rect x="558.3" y="741.3" width="221.1" height="18.0" fill="#134e8b"/>
<line x1="271.0" y1="750.3" x2="274.6" y2="750.3" stroke="#333" stroke-width="1.2"/>
<text transform="translate(270.00,754.46) scale(1.1220,1.0000)" font-size="15.6" text-anchor="end" fill="#4d4d4d">Hallmark Pi3k Akt Mtor Signaling</text>
<rect x="558.3" y="761.4" width="217.6" height="18.0" fill="#134e8b"/>
<line x1="271.0" y1="770.4" x2="274.6" y2="770.4" stroke="#333" stroke-width="1.2"/>
<text transform="translate(270.00,774.62) scale(1.1220,1.0000)" font-size="15.6" text-anchor="end" fill="#4d4d4d">Hallmark Protein Secretion</text>
<rect x="558.3" y="781.6" width="214.8" height="18.0" fill="#134e8b"/>
<line x1="271.0" y1="790.6" x2="274.6" y2="790.6" stroke="#333" stroke-width="1.2"/>
<text transform="translate(270.00,794.79) scale(1.1220,1.0000)" font-size="15.6" text-anchor="end" fill="#4d4d4d">Hallmark Heme Metabolism</text>
<rect x="558.3" y="801.8" width="213.7" height="18.0" fill="#134e8b"/>
<line x1="271.0" y1="810.8" x2="274.6" y2="810.8" stroke="#333" stroke-width="1.2"/>
<text transform="translate(270.00,814.95) scale(1.1220,1.0000)" font-size="15.6" text-anchor="end" fill="#4d4d4d">Hallmark Spermatogenesis</text>
<rect x="558.3" y="821.9" width="210.2" height="18.0" fill="#134e8b"/>
<line x1="271.0" y1="830.9" x2="274.6" y2="830.9" stroke="#333" stroke-width="1.2"/>
<text transform="translate(270.00,835.12) scale(1.1220,1.0000)" font-size="15.6" text-anchor="end" fill="#4d4d4d">Hallmark Estrogen Response Late</text>
<rect x="558.3" y="842.1" width="204.6" height="18.0" fill="#134e8b"/>
<line x1="271.0" y1="851.1" x2="274.6" y2="851.1" stroke="#333" stroke-width="1.2"/>
<text transform="translate(270.00,855.28) scale(1.1220,1.0000)" font-size="15.6" text-anchor="end" fill="#4d4d4d">Hallmark Mitotic Spindle</text>
<rect x="558.3" y="862.2" width="195.6" height="18.0" fill="#134e8b"/>
<line x1="271.0" y1="871.2" x2="274.6" y2="871.2" stroke="#333" stroke-width="1.2"/>
<text transform="translate(270.00,875.45) scale(1.1220,1.0000)" font-size="15.6" text-anchor="end" fill="#4d4d4d">Hallmark Peroxisome</text>
<rect x="558.3" y="882.4" width="187.1" height="18.0" fill="#134e8b"/>
<line x1="271.0" y1="891.4" x2="274.6" y2="891.4" stroke="#333" stroke-width="1.2"/>
<text transform="translate(270.00,895.61) scale(1.1220,1.0000)" font-size="15.6" text-anchor="end" fill="#4d4d4d">Hallmark Glycolysis</text>
<rect x="558.3" y="902.6" width="185.4" height="18.0" fill="#134e8b"/>
<line x1="271.0" y1="911.6" x2="274.6" y2="911.6" stroke="#333" stroke-width="1.2"/>
<text transform="translate(270.00,915.78) scale(1.1220,1.0000)" font-size="15.6" text-anchor="end" fill="#4d4d4d">Hallmark Mtorc1 Signaling</text>
<rect x="558.3" y="922.7" width="184.7" height="18.0" fill="#134e8b"/>
<line x1="271.0" y1="931.7" x2="274.6" y2="931.7" stroke="#333" stroke-width="1.2"/>
<text transform="translate(270.00,935.94) scale(1.1220,1.0000)" font-size="15.6" text-anchor="end" fill="#4d4d4d">Hallmark Adipogenesis</text>
<rect x="558.3" y="942.9" width="183.9" height="18.0" fill="#134e8b"/>
<line x1="271.0" y1="951.9" x2="274.6" y2="951.9" stroke="#333" stroke-width="1.2"/>
<text transform="translate(270.00,956.11) scale(1.1220,1.0000)" font-size="15.6" text-anchor="end" fill="#4d4d4d">Hallmark Fatty Acid Metabolism</text>
<rect x="558.3" y="963.1" width="180.4" height="18.0" fill="#134e8b"/>
<line x1="271.0" y1="972.1" x2="274.6" y2="972.1" stroke="#333" stroke-width="1.2"/>
<text transform="translate(270.00,976.27) scale(1.1220,1.0000)" font-size="15.6" text-anchor="end" fill="#4d4d4d">Hallmark Myogenesis</text>
<rect x="359.6" y="983.2" width="198.7" height="18.0" fill="#134e8b"/>
<line x1="271.0" y1="992.2" x2="274.6" y2="992.2" stroke="#333" stroke-width="1.2"/>
<text transform="translate(270.00,996.44) scale(1.1220,1.0000)" font-size="15.6" text-anchor="end" fill="#4d4d4d">Wherry Exhaustion Downregulated</text>
<rect x="356.8" y="1003.4" width="201.5" height="18.0" fill="#134e8b"/>
<line x1="271.0" y1="1012.4" x2="274.6" y2="1012.4" stroke="#333" stroke-width="1.2"/>
<text transform="translate(270.00,1016.60) scale(1.1220,1.0000)" font-size="15.6" text-anchor="end" fill="#4d4d4d">Hallmark Il6 Jak Stat3 Signaling</text>
<rect x="299.7" y="1023.6" width="258.6" height="18.0" fill="#134e8b"/>
<line x1="271.0" y1="1032.6" x2="274.6" y2="1032.6" stroke="#333" stroke-width="1.2"/>
<text transform="translate(270.00,1036.77) scale(1.1220,1.0000)" font-size="15.6" text-anchor="end" fill="#4d4d4d">Utzschneider Core Downregulated</text>
<rect x="274.6" y="597.5" width="569.3" height="446.79999999999995" fill="none" stroke="#333" stroke-width="1.0"/>
<line x1="289.8" y1="1044.3" x2="289.8" y2="1047.9" stroke="#333" stroke-width="1.2"/>
<text transform="translate(289.40,1061.80) scale(1.0700,1.0000)" font-size="15.7" text-anchor="middle" fill="#4d4d4d">−2</text>
<line x1="424.0" y1="1044.3" x2="424.0" y2="1047.9" stroke="#333" stroke-width="1.2"/>
<text transform="translate(423.65,1061.80) scale(1.0700,1.0000)" font-size="15.7" text-anchor="middle" fill="#4d4d4d">−1</text>
<line x1="558.3" y1="1044.3" x2="558.3" y2="1047.9" stroke="#333" stroke-width="1.2"/>
<text transform="translate(556.90,1061.80) scale(1.0700,1.0000)" font-size="15.7" text-anchor="middle" fill="#4d4d4d">0</text>
<line x1="692.5" y1="1044.3" x2="692.5" y2="1047.9" stroke="#333" stroke-width="1.2"/>
<text transform="translate(691.15,1061.80) scale(1.0700,1.0000)" font-size="15.7" text-anchor="middle" fill="#4d4d4d">1</text>
<line x1="826.8" y1="1044.3" x2="826.8" y2="1047.9" stroke="#333" stroke-width="1.2"/>
<text transform="translate(825.40,1061.80) scale(1.0700,1.0000)" font-size="15.7" text-anchor="middle" fill="#4d4d4d">2</text>
<text transform="translate(563.90,593.60)" font-size="20.5" text-anchor="middle" fill="#000">Naïve: RISP KO vs. RISP WT</text>
<text transform="translate(574.60,1083.30) scale(1.0700,1.0000)" font-size="19.6" text-anchor="middle" fill="#000">Normalized Enrichment Score (GSEA)</text>
</g>
<g id="pd">
<rect x="1160.6" y="601.4" width="550.7" height="446.80000000000007" fill="#fff"/>
<line x1="1230.0" y1="601.4" x2="1230.0" y2="1048.2" stroke="#e8e8e8" stroke-width="0.6"/>
<line x1="1360.8" y1="601.4" x2="1360.8" y2="1048.2" stroke="#e8e8e8" stroke-width="0.6"/>
<line x1="1491.6" y1="601.4" x2="1491.6" y2="1048.2" stroke="#e8e8e8" stroke-width="0.6"/>
<line x1="1622.4" y1="601.4" x2="1622.4" y2="1048.2" stroke="#e8e8e8" stroke-width="0.6"/>
<line x1="1164.6" y1="601.4" x2="1164.6" y2="1048.2" stroke="#e8e8e8" stroke-width="1.05"/>
<line x1="1295.4" y1="601.4" x2="1295.4" y2="1048.2" stroke="#e8e8e8" stroke-width="1.05"/>
<line x1="1426.2" y1="601.4" x2="1426.2" y2="1048.2" stroke="#e8e8e8" stroke-width="1.05"/>
<line x1="1557.0" y1="601.4" x2="1557.0" y2="1048.2" stroke="#e8e8e8" stroke-width="1.05"/>
<line x1="1687.8" y1="601.4" x2="1687.8" y2="1048.2" stroke="#e8e8e8" stroke-width="1.05"/>
<line x1="1160.6" y1="627.1" x2="1711.3" y2="627.1" stroke="#e8e8e8" stroke-width="1.05"/>
<line x1="1160.6" y1="671.0" x2="1711.3" y2="671.0" stroke="#e8e8e8" stroke-width="1.05"/>
<line x1="1160.6" y1="714.9" x2="1711.3" y2="714.9" stroke="#e8e8e8" stroke-width="1.05"/>
<line x1="1160.6" y1="758.8" x2="1711.3" y2="758.8" stroke="#e8e8e8" stroke-width="1.05"/>
<line x1="1160.6" y1="802.7" x2="1711.3" y2="802.7" stroke="#e8e8e8" stroke-width="1.05"/>
<line x1="1160.6" y1="846.6" x2="1711.3" y2="846.6" stroke="#e8e8e8" stroke-width="1.05"/>
<line x1="1160.6" y1="890.5" x2="1711.3" y2="890.5" stroke="#e8e8e8" stroke-width="1.05"/>
<line x1="1160.6" y1="934.4" x2="1711.3" y2="934.4" stroke="#e8e8e8" stroke-width="1.05"/>
<line x1="1160.6" y1="978.3" x2="1711.3" y2="978.3" stroke="#e8e8e8" stroke-width="1.05"/>
<line x1="1160.6" y1="1022.2" x2="1711.3" y2="1022.2" stroke="#e8e8e8" stroke-width="1.05"/>
<rect x="1341.0" y="607.5" width="346.8" height="39.3" fill="#134e8b"/>
<line x1="1157.0" y1="627.1" x2="1160.6" y2="627.1" stroke="#333" stroke-width="1.2"/>
<text transform="translate(1152.90,631.70)" font-size="17.4" text-anchor="end" fill="#4d4d4d">Utzschneider Core Upregulated</text>
<rect x="1306.0" y="651.4" width="381.8" height="39.3" fill="#134e8b"/>
<line x1="1157.0" y1="671.0" x2="1160.6" y2="671.0" stroke="#333" stroke-width="1.2"/>
<text transform="translate(1152.90,675.60)" font-size="17.4" text-anchor="end" fill="#4d4d4d">Hallmark Tnfa Signaling Via Nfkb</text>
<rect x="1304.9" y="695.2" width="382.9" height="39.3" fill="#134e8b"/>
<line x1="1157.0" y1="714.9" x2="1160.6" y2="714.9" stroke="#333" stroke-width="1.2"/>
<text transform="translate(1152.90,719.50)" font-size="17.4" text-anchor="end" fill="#4d4d4d">Hallmark Inflammatory Response</text>
<rect x="1274.5" y="739.1" width="413.3" height="39.3" fill="#134e8b"/>
<line x1="1157.0" y1="758.8" x2="1160.6" y2="758.8" stroke="#333" stroke-width="1.2"/>
<text transform="translate(1152.90,763.40)" font-size="17.4" text-anchor="end" fill="#4d4d4d">Hallmark Heme Metabolism</text>
<rect x="1274.1" y="783.1" width="413.7" height="39.3" fill="#134e8b"/>
<line x1="1157.0" y1="802.7" x2="1160.6" y2="802.7" stroke="#333" stroke-width="1.2"/>
<text transform="translate(1152.90,807.30)" font-size="17.4" text-anchor="end" fill="#4d4d4d">Hallmark Il2 Stat5 Signaling</text>
<rect x="1239.0" y="827.0" width="448.8" height="39.3" fill="#134e8b"/>
<line x1="1157.0" y1="846.6" x2="1160.6" y2="846.6" stroke="#333" stroke-width="1.2"/>
<text transform="translate(1152.90,851.20)" font-size="17.4" text-anchor="end" fill="#4d4d4d">Hallmark Il6 Jak Stat3 Signaling</text>
<rect x="1235.0" y="870.9" width="452.8" height="39.3" fill="#134e8b"/>
<line x1="1157.0" y1="890.5" x2="1160.6" y2="890.5" stroke="#333" stroke-width="1.2"/>
<text transform="translate(1152.90,895.10)" font-size="17.4" text-anchor="end" fill="#4d4d4d">Utzschneider Core Downregulated</text>
<rect x="1220.3" y="914.8" width="467.5" height="39.3" fill="#134e8b"/>
<line x1="1157.0" y1="934.4" x2="1160.6" y2="934.4" stroke="#333" stroke-width="1.2"/>
<text transform="translate(1152.90,939.00)" font-size="17.4" text-anchor="end" fill="#4d4d4d">Hallmark Interferon Alpha Response</text>
<rect x="1194.5" y="958.6" width="493.3" height="39.3" fill="#134e8b"/>
<line x1="1157.0" y1="978.3" x2="1160.6" y2="978.3" stroke="#333" stroke-width="1.2"/>
<text transform="translate(1152.90,982.90)" font-size="17.4" text-anchor="end" fill="#4d4d4d">Hallmark Allograft Rejection</text>
<rect x="1185.2" y="1002.6" width="502.6" height="39.3" fill="#134e8b"/>
<line x1="1157.0" y1="1022.2" x2="1160.6" y2="1022.2" stroke="#333" stroke-width="1.2"/>
<text transform="translate(1152.90,1026.80)" font-size="17.4" text-anchor="end" fill="#4d4d4d">Hallmark Interferon Gamma Response</text>
<rect x="1160.6" y="601.4" width="550.7" height="446.80000000000007" fill="none" stroke="#333" stroke-width="1.0"/>
<line x1="1164.6" y1="1048.2" x2="1164.6" y2="1051.8" stroke="#333" stroke-width="1.2"/>
<text transform="translate(1166.70,1066.10)" font-size="16.0" text-anchor="middle" fill="#4d4d4d">−2.0</text>
<line x1="1295.4" y1="1048.2" x2="1295.4" y2="1051.8" stroke="#333" stroke-width="1.2"/>
<text transform="translate(1297.50,1066.10)" font-size="16.0" text-anchor="middle" fill="#4d4d4d">−1.5</text>
<line x1="1426.2" y1="1048.2" x2="1426.2" y2="1051.8" stroke="#333" stroke-width="1.2"/>
<text transform="translate(1428.30,1066.10)" font-size="16.0" text-anchor="middle" fill="#4d4d4d">−1.0</text>
<line x1="1557.0" y1="1048.2" x2="1557.0" y2="1051.8" stroke="#333" stroke-width="1.2"/>
<text transform="translate(1559.10,1066.10)" font-size="16.0" text-anchor="middle" fill="#4d4d4d">−0.5</text>
<line x1="1687.8" y1="1048.2" x2="1687.8" y2="1051.8" stroke="#333" stroke-width="1.2"/>
<text transform="translate(1687.80,1066.10)" font-size="16.0" text-anchor="middle" fill="#4d4d4d">0.0</text>
<text transform="translate(1459.95,597.50)" font-size="20.8" text-anchor="middle" fill="#000">Naïve : RISP KO + AOX vs. RISP WT</text>
<text transform="translate(1453.20,1084.30)" font-size="20.9" text-anchor="middle" fill="#000">Normalized Enrichment Score (GSEA)</text>
</g>
</svg>
</body>
</html>
